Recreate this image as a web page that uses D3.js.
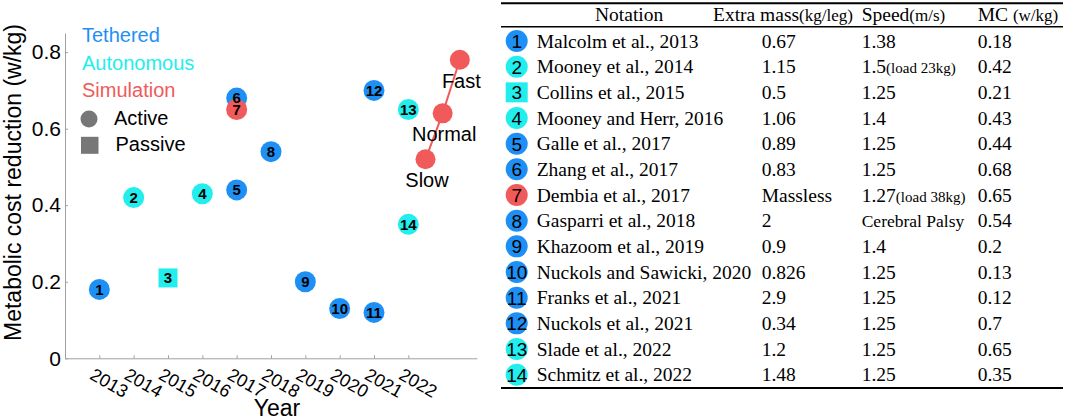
<!DOCTYPE html>
<html>
<head>
<meta charset="utf-8">
<script src="https://cdn.jsdelivr.net/npm/d3@7/dist/d3.min.js"></script>
<style>
  html, body { margin: 0; padding: 0; background: #fff; }
  svg { display: block; }
</style>
</head>
<body>
<svg id="chart" width="1065" height="420"></svg>
<script>
// ---------- data ----------
const ids = [1, 2, 3, 4, 5, 6, 7, 8, 9, 10, 11, 12, 13, 14];
const years = [2013, 2014, 2015, 2016, 2017, 2017, 2017, 2018, 2019, 2020, 2021, 2021, 2022, 2022];
const mcReduction = [0.18, 0.42, 0.21, 0.43, 0.44, 0.68, 0.65, 0.54, 0.2, 0.13, 0.12, 0.7, 0.65, 0.35];
const kinds = ["Tethered", "Autonomous", "Autonomous", "Autonomous", "Tethered", "Tethered", "Simulation",
               "Tethered", "Tethered", "Tethered", "Tethered", "Tethered", "Autonomous", "Autonomous"];
const actuation = ["Active", "Active", "Passive", "Active", "Active", "Active", "Active",
                   "Active", "Active", "Active", "Active", "Active", "Active", "Active"];
const studies = ["Malcolm et al., 2013", "Mooney et al., 2014", "Collins et al., 2015", "Mooney and Herr, 2016",
                 "Galle et al., 2017", "Zhang et al., 2017", "Dembia et al., 2017", "Gasparri et al., 2018",
                 "Khazoom et al., 2019", "Nuckols and Sawicki, 2020", "Franks et al., 2021", "Nuckols et al., 2021",
                 "Slade et al., 2022", "Schmitz et al., 2022"];
const extraMass = ["0.67", "1.15", "0.5", "1.06", "0.89", "0.83", "Massless", "2", "0.9", "0.826", "2.9", "0.34", "1.2", "1.48"];
const speeds = ["1.38", "1.5", "1.25", "1.4", "1.25", "1.25", "1.27", "Cerebral Palsy", "1.4", "1.25", "1.25", "1.25", "1.25", "1.25"];
const speedNotes = ["", "(load 23kg)", "", "", "", "", "(load 38kg)", "", "", "", "", "", "", ""];
const mcLabels = ["0.18", "0.42", "0.21", "0.43", "0.44", "0.68", "0.65", "0.54", "0.2", "0.13", "0.12", "0.7", "0.65", "0.35"];

const simYears = [2022.5, 2023, 2023.5];
const simValues = [0.52, 0.64, 0.78];
const simLabels = ["Slow", "Normal", "Fast"];

const yTicks = [0, 0.2, 0.4, 0.6, 0.8];
const xTicks = [2013, 2014, 2015, 2016, 2017, 2018, 2019, 2020, 2021, 2022];
const legendKinds = ["Tethered", "Autonomous", "Simulation"];
const legendShapes = ["Active", "Passive"];

// ---------- styles ----------
const colors = { Tethered: "#1e90f5", Autonomous: "#22eeee", Simulation: "#f05a5a" };
const sans = "'Liberation Sans', Arial, Helvetica, sans-serif";
const serif = "'Liberation Serif', 'Times New Roman', Times, serif";
const axisGray = "#a0a0a0";
const legendGray = "#777777";

const svg = d3.select("#chart");

// ---------- scatter plot ----------
const x = d3.scaleLinear().domain([2012, 2024]).range([65, 477]);
const y = d3.scaleLinear().domain([0, 0.85]).range([358.3, 33]);

const yAxis = svg.append("g")
  .attr("transform", `translate(${x.range()[0]},0)`)
  .call(d3.axisLeft(y).tickValues(yTicks).tickSize(-3).tickSizeOuter(0).tickPadding(4)
        .tickFormat(d => d === 0 ? "0" : d3.format(".1f")(d)));
yAxis.selectAll("path, line").attr("stroke", axisGray);
yAxis.selectAll("text").attr("font-family", sans).attr("font-size", 21).attr("fill", "#000");

const xAxis = svg.append("g")
  .attr("transform", `translate(0,${y.range()[0]})`)
  .call(d3.axisBottom(x).tickValues(xTicks).tickSize(-3).tickSizeOuter(0).tickFormat(d3.format("d")));
xAxis.selectAll("path, line").attr("stroke", axisGray);
xAxis.selectAll("text")
  .attr("font-family", sans).attr("font-size", 18).attr("fill", "#000")
  .attr("text-anchor", "start")
  .attr("x", -11).attr("y", 20).attr("dy", null)
  .attr("transform", "rotate(30,-11,20)");

svg.append("text")
  .attr("x", 277).attr("y", 416)
  .attr("text-anchor", "middle")
  .attr("font-family", sans).attr("font-size", 23)
  .text("Year");

svg.append("text")
  .attr("transform", "translate(21,182.5) rotate(-90)")
  .attr("text-anchor", "middle")
  .attr("font-family", sans).attr("font-size", 23)
  .text("Metabolic cost reduction (w/kg)");

// legend
const legY = d3.scalePoint().domain(legendKinds).range([42, 97.3]);
svg.append("g").selectAll("text").data(legendKinds).join("text")
  .attr("x", 82).attr("y", d => legY(d))
  .attr("font-family", sans).attr("font-size", 20)
  .attr("fill", d => colors[d])
  .text(d => d);

const shpY = d3.scalePoint().domain(legendShapes).range([119, 145.3]);
svg.append("circle").attr("cx", 89).attr("cy", shpY("Active")).attr("r", 8.5).attr("fill", legendGray);
svg.append("rect").attr("x", 81).attr("y", shpY("Passive") - 8.5).attr("width", 17.5).attr("height", 17)
  .attr("fill", legendGray);
svg.append("text").attr("x", 114).attr("y", shpY("Active") + 6).attr("font-family", sans).attr("font-size", 20)
  .text("Active");
svg.append("text").attr("x", 115.5).attr("y", shpY("Passive") + 6).attr("font-family", sans).attr("font-size", 20)
  .text("Passive");

// points
const pts = ids.map((id, i) => ({ id, year: years[i], v: mcReduction[i], kind: kinds[i], act: actuation[i] }));
const ptG = svg.append("g");
ptG.selectAll("circle").data(pts.filter(d => d.act === "Active")).join("circle")
  .attr("cx", d => x(d.year)).attr("cy", d => y(d.v)).attr("r", 10.5)
  .attr("fill", d => colors[d.kind]);
ptG.selectAll("rect").data(pts.filter(d => d.act === "Passive")).join("rect")
  .attr("x", d => x(d.year) - 9.5).attr("y", d => y(d.v) - 9.5).attr("width", 19).attr("height", 19)
  .attr("fill", d => colors[d.kind]);
ptG.selectAll("text").data(pts).join("text")
  .attr("x", d => x(d.year)).attr("y", d => y(d.v)).attr("dy", "0.36em")
  .attr("text-anchor", "middle")
  .attr("font-family", sans).attr("font-size", 15).attr("font-weight", "bold")
  .text(d => d.id);

// simulation line
const sim = simYears.map((yr, i) => ({ year: yr, v: simValues[i], label: simLabels[i] }));
svg.append("path").datum(sim)
  .attr("d", d3.line().x(d => x(d.year)).y(d => y(d.v)))
  .attr("fill", "none").attr("stroke", colors.Simulation).attr("stroke-width", 2);
svg.append("g").selectAll("circle").data(sim).join("circle")
  .attr("cx", d => x(d.year)).attr("cy", d => y(d.v)).attr("r", 10)
  .attr("fill", colors.Simulation);
svg.append("g").selectAll("text").data(sim).join("text")
  .attr("x", d => x(d.year) + 1.5).attr("y", d => y(d.v) + 28)
  .attr("text-anchor", "middle")
  .attr("font-family", sans).attr("font-size", 20)
  .text(d => d.label);

// ---------- table ----------
const tLeft = 501, tRight = 1063;
const rowY = d3.scaleLinear().domain([0, 13]).range([41, 374.7]);
const col = { icon: 516.7, notation: 536.7, mass: 761.7, speed: 861.7, mc: 977.7 };

svg.append("line").attr("x1", tLeft).attr("x2", tRight).attr("y1", 3.3).attr("y2", 3.3)
  .attr("stroke", "#000").attr("stroke-width", 2);
svg.append("line").attr("x1", tLeft).attr("x2", tRight).attr("y1", 26.8).attr("y2", 26.8)
  .attr("stroke", "#000").attr("stroke-width", 1.4);
svg.append("line").attr("x1", tLeft).attr("x2", tRight).attr("y1", 388).attr("y2", 388)
  .attr("stroke", "#000").attr("stroke-width", 2);

const head = svg.append("g").attr("font-family", serif).attr("font-size", 19.5);
head.append("text").attr("x", 595).attr("y", 21).text("Notation");
const h2 = head.append("text").attr("x", 713).attr("y", 21);
h2.append("tspan").text("Extra mass");
h2.append("tspan").attr("font-size", 17).text("(kg/leg)");
const h3 = head.append("text").attr("x", col.speed).attr("y", 21);
h3.append("tspan").text("Speed");
h3.append("tspan").attr("font-size", 17).text("(m/s)");
const h4 = head.append("text").attr("x", col.mc).attr("y", 21).attr("xml:space", "preserve");
h4.append("tspan").text("MC\u00a0");
h4.append("tspan").attr("font-size", 17).text("(w/kg)");

const rows = ids.map((id, i) => ({
  i, id, kind: kinds[i], act: actuation[i], study: studies[i],
  mass: extraMass[i], speed: speeds[i], note: speedNotes[i], mc: mcLabels[i]
}));
const rg = svg.append("g").selectAll("g").data(rows).join("g")
  .attr("transform", d => `translate(0,${rowY(d.i)})`);

rg.filter(d => d.act === "Active").append("circle")
  .attr("cx", col.icon).attr("cy", 0).attr("r", 11)
  .attr("fill", d => colors[d.kind]);
rg.filter(d => d.act === "Passive").append("rect")
  .attr("x", col.icon - 11).attr("y", -10).attr("width", 22).attr("height", 20)
  .attr("fill", d => colors[d.kind]);
rg.append("text")
  .attr("x", col.icon).attr("y", 0).attr("dy", "0.36em")
  .attr("text-anchor", "middle")
  .attr("font-family", sans).attr("font-size", 19)
  .text(d => d.id);

const rt = rg.append("g").attr("font-family", serif).attr("font-size", 19.5);
rt.append("text").attr("x", col.notation).attr("y", 6.5).text(d => d.study);
rt.append("text").attr("x", col.mass).attr("y", 6.5).text(d => d.mass);
const sp = rt.append("text").attr("x", col.speed).attr("y", 6.5);
sp.append("tspan").attr("font-size", d => d.speed.length > 5 ? 17.5 : 19.5).text(d => d.speed);
sp.append("tspan").attr("font-size", 15).text(d => d.note);
rt.append("text").attr("x", col.mc).attr("y", 6.5).text(d => d.mc);
</script>
</body>
</html>
